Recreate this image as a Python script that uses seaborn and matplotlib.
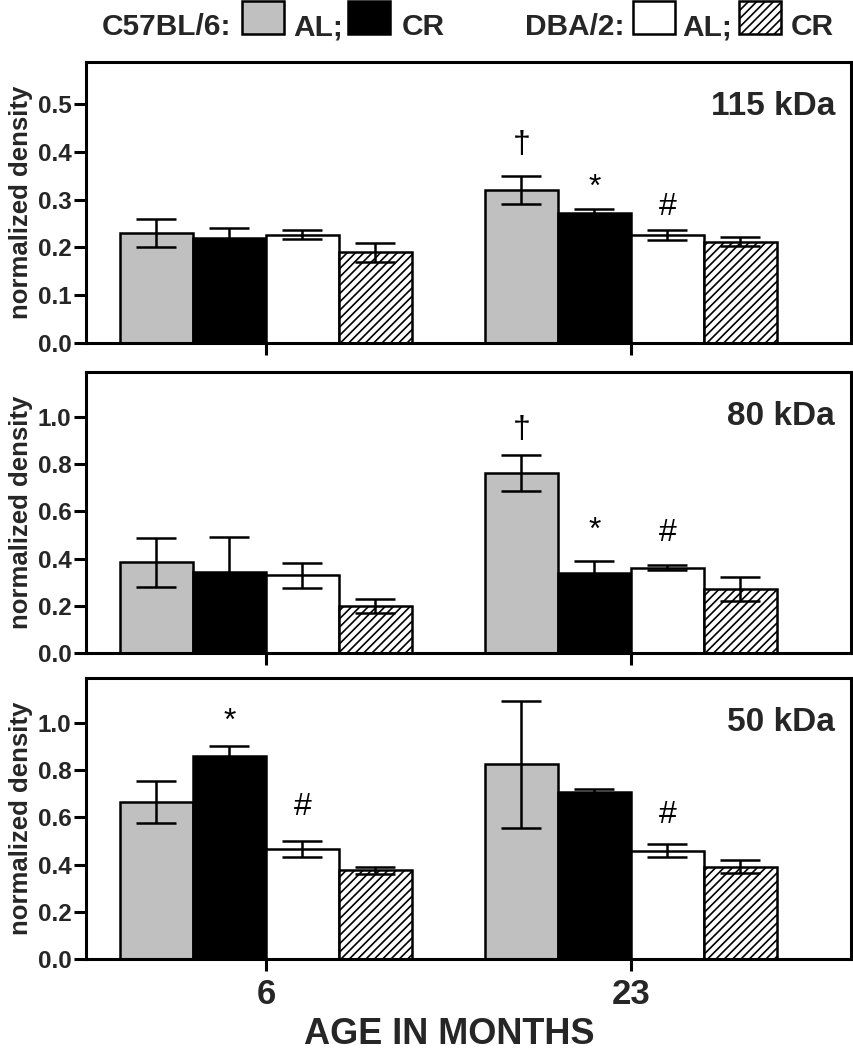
import numpy as np
import pandas as pd
import matplotlib
matplotlib.use('Agg')
import matplotlib.pyplot as plt
from matplotlib.patches import Rectangle
import seaborn as sns

# data
ages = ['6', '23']
groups = ['C57BL/6 AL', 'C57BL/6 CR', 'DBA/2 AL', 'DBA/2 CR']
panel_names = ['115 kDa', '80 kDa', '50 kDa']

# means, [age 6 values, age 23 values] per group
kda115_mean = [[0.230, 0.320], [0.220, 0.272], [0.227, 0.226], [0.190, 0.212]]
kda115_err = [[0.030, 0.030], [0.020, 0.008], [0.010, 0.010], [0.020, 0.010]]
kda80_mean = [[0.384, 0.762], [0.345, 0.340], [0.330, 0.362], [0.200, 0.270]]
kda80_err = [[0.104, 0.075], [0.145, 0.050], [0.053, 0.012], [0.030, 0.050]]
kda50_mean = [[0.665, 0.824], [0.858, 0.706], [0.466, 0.459], [0.375, 0.391]]
kda50_err = [[0.089, 0.270], [0.045, 0.012], [0.035, 0.027], [0.015, 0.028]]

ylims = [0.588, 1.19, 1.19]
ysteps = [0.1, 0.2, 0.2]

# significance marks: (panel, age index, group index, symbol, text y)
marks = [
    (0, 1, 0, '†', 0.414), (0, 1, 1, '*', 0.325), (0, 1, 2, '#', 0.285),
    (1, 1, 0, '†', 0.945), (1, 1, 1, '*', 0.515), (1, 1, 2, '#', 0.51),
    (2, 0, 1, '*', 1.005), (2, 0, 2, '#', 0.645), (2, 1, 2, '#', 0.61),
]

colors = ['#c0c0c0', 'black', 'white', 'white']

sns.set_style('ticks')
plt.rcParams['font.family'] = ['Liberation Sans', 'DejaVu Sans']
plt.rcParams['axes.linewidth'] = 2.2
plt.rcParams['axes.edgecolor'] = 'black'
plt.rcParams['hatch.linewidth'] = 1.2

fig = plt.figure(figsize=(8.54, 10.5), dpi=100)
H = 1050.0
W = 854.0
tops = [62, 372, 678]
bottoms = [343, 653, 959]
left, right = 86, 851

means = [kda115_mean, kda80_mean, kda50_mean]
errs = [kda115_err, kda80_err, kda50_err]

axes = []
for i in range(3):
    ax = fig.add_axes([left / W, 1 - bottoms[i] / H, (right - left) / W,
                       (bottoms[i] - tops[i]) / H])
    rows = []
    for g, grp in enumerate(groups):
        for a, age in enumerate(ages):
            rows.append({'age': age, 'group': grp, 'density': means[i][g][a]})
    df = pd.DataFrame(rows)
    sns.barplot(data=df, x='age', y='density', hue='group', order=ages,
                hue_order=groups, palette=colors, saturation=1, width=0.8,
                edgecolor='black', linewidth=1.8, errorbar=None, legend=False,
                ax=ax)
    bar_conts = list(ax.containers)
    for bar in bar_conts[3]:
        bar.set_hatch('////')
    for g, cont in enumerate(bar_conts):
        xs = [b.get_x() + b.get_width() / 2 for b in cont]
        ys = [b.get_height() for b in cont]
        ax.errorbar(xs, ys, yerr=errs[i][g], fmt='none', ecolor='black',
                    elinewidth=1.8, capsize=14.5, capthick=1.8, zorder=4)
    for (p, a, g, sym, ty) in marks:
        if p != i:
            continue
        b = bar_conts[g][a]
        ax.text(b.get_x() + b.get_width() / 2, ty, sym, ha='center',
                va='center', fontsize=23, color='black')

    ax.set_xlim(-0.493, 1.603)
    ax.set_ylim(0, ylims[i])
    ax.set_yticks(np.arange(0, ylims[i] - 0.05, ysteps[i]))
    ax.yaxis.set_major_formatter(matplotlib.ticker.FormatStrFormatter('%.1f'))
    for s in ax.spines.values():
        s.set_visible(True)
        s.set_linewidth(2.2)
    ax.tick_params(axis='both', direction='out', length=8.5, width=2.2,
                   color='black')
    ax.tick_params(axis='y', pad=2, labelsize=17.5)
    for lab in ax.get_yticklabels():
        lab.set_fontweight('bold')
    ax.set_xlabel('')
    ax.set_ylabel('normalized density', fontsize=18.5, fontweight='bold',
                  labelpad=3)
    ax.text(0.979, 0.81, panel_names[i], transform=ax.transAxes, ha='right',
            va='baseline', fontsize=24, fontweight='bold')
    if i < 2:
        ax.set_xticklabels([])
    else:
        ax.tick_params(axis='x', labelsize=25, pad=5)
        for lab in ax.get_xticklabels():
            lab.set_fontweight('bold')
    axes.append(ax)

fig.text(449 / W, 1 - 1034 / H, 'AGE IN MONTHS', ha='center', va='center',
         fontsize=26, fontweight='bold')

# legend row at the top
base = 1 - 35 / H
box_b = 1 - 34 / H
box_h = 33 / H
box_w = 42 / W
fig.text(102 / W, base, 'C57BL/6:', fontsize=21.5, fontweight='bold', va='baseline')
fig.text(293 / W, base, 'AL;', fontsize=21.5, fontweight='bold', va='baseline')
fig.text(402 / W, base, 'CR', fontsize=21.5, fontweight='bold', va='baseline')
fig.text(525 / W, base, 'DBA/2:', fontsize=21.5, fontweight='bold', va='baseline')
fig.text(682 / W, base, 'AL;', fontsize=21.5, fontweight='bold', va='baseline')
fig.text(791 / W, base, 'CR', fontsize=21.5, fontweight='bold', va='baseline')
for x0, c, h in [(242, colors[0], ''), (348, colors[1], ''),
                 (633, colors[2], ''), (739, colors[3], '////')]:
    fig.patches.append(Rectangle((x0 / W, box_b), box_w, box_h,
                                 transform=fig.transFigure, facecolor=c,
                                 edgecolor='black', linewidth=1.8, hatch=h))

fig.savefig('out.png', dpi=100)
